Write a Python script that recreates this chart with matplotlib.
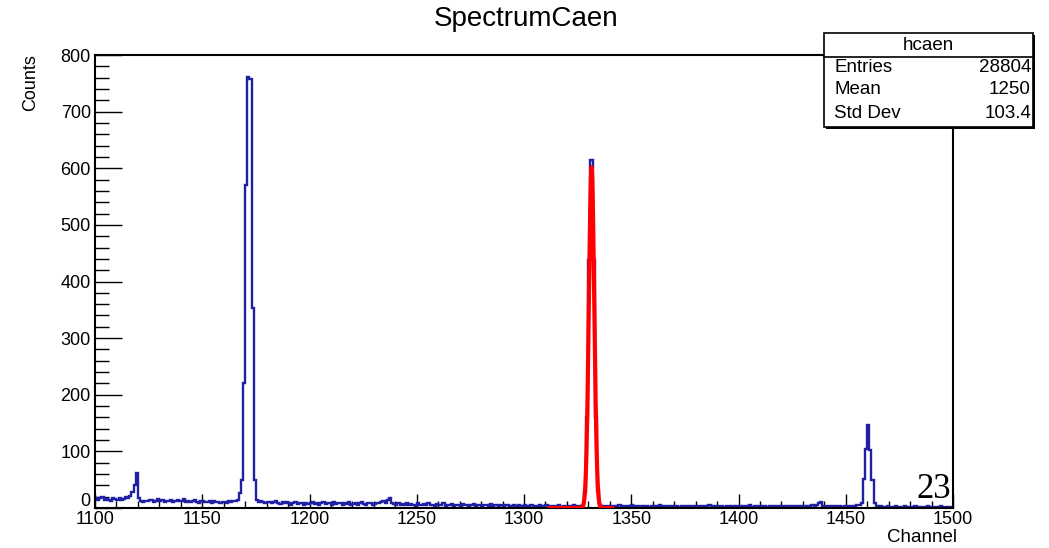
import numpy as np
import matplotlib
matplotlib.use("Agg")
import matplotlib.pyplot as plt
import matplotlib.transforms as mtransforms
from matplotlib.patches import Rectangle
from matplotlib.lines import Line2D
from matplotlib.ticker import MultipleLocator

plt.rcParams['font.family'] = ['Liberation Sans', 'DejaVu Sans']

# ---------------- data ----------------
channel_start = 1100
channel_stop = 1500
counts = [
    # 1100-1119
    18, 15, 17, 20, 14, 16, 15, 13, 17, 16, 15, 18, 14, 16, 19, 17, 22, 28, 40, 62,
    # 1120-1139
    18, 12, 11, 13, 12, 15, 14, 11, 13, 16, 12, 14, 10, 13, 12, 15, 11, 12, 14, 13,
    # 1140-1159
    12, 16, 11, 13, 10, 12, 14, 11, 9, 13, 12, 10, 11, 13, 9, 12, 10, 11, 9, 10,
    # 1160-1179
    11, 9, 12, 10, 13, 12, 15, 26, 50, 220, 571, 762, 758, 353, 50, 14, 10, 12, 11, 9,
    # 1180-1199
    10, 11, 8, 10, 12, 9, 7, 10, 9, 11, 8, 6, 9, 10, 7, 9, 8, 5, 9, 7,
    # 1200-1219
    8, 10, 7, 9, 6, 8, 11, 7, 9, 8, 6, 10, 7, 8, 9, 6, 8, 7, 10, 6,
    # 1220-1239
    7, 9, 6, 8, 10, 7, 5, 9, 8, 6, 7, 9, 8, 10, 12, 8, 14, 18, 9, 7,
    # 1240-1259
    6, 8, 5, 7, 6, 9, 5, 7, 6, 4, 8, 6, 5, 7, 6, 8, 5, 6, 4, 7,
    # 1260-1279
    5, 6, 8, 4, 6, 5, 7, 3, 6, 5, 4, 7, 5, 6, 4, 5, 7, 4, 6, 5,
    # 1280-1299
    4, 6, 5, 3, 7, 4, 5, 6, 3, 5, 4, 6, 5, 3, 4, 6, 4, 5, 3, 4,
    # 1300-1319
    5, 3, 4, 6, 3, 4, 2, 5, 4, 3, 5, 4, 3, 2, 4, 3, 5, 2, 4, 3,
    # 1320-1339
    3, 4, 2, 5, 3, 4, 3, 5, 28, 160, 438, 615, 438, 160, 30, 6, 4, 3, 4, 2,
    # 1340-1359
    3, 2, 4, 3, 5, 2, 3, 4, 2, 3, 5, 3, 2, 4, 3, 2, 4, 3, 2, 3,
    # 1360-1379
    4, 2, 3, 5, 2, 3, 4, 2, 3, 2, 4, 3, 2, 3, 4, 2, 3, 2, 4, 3,
    # 1380-1399
    2, 3, 4, 2, 3, 2, 5, 3, 2, 3, 2, 4, 3, 2, 3, 4, 2, 3, 2, 3,
    # 1400-1419
    4, 2, 3, 2, 3, 5, 2, 3, 2, 4, 3, 2, 3, 2, 4, 3, 2, 3, 4, 2,
    # 1420-1439
    3, 2, 4, 3, 2, 3, 2, 4, 3, 2, 3, 4, 2, 3, 5, 3, 6, 9, 10, 3,
    # 1440-1459
    2, 3, 4, 2, 3, 2, 3, 4, 2, 3, 2, 4, 3, 2, 4, 5, 6, 9, 52, 105,
    # 1460-1479
    147, 102, 50, 8, 4, 2, 3, 2, 1, 3, 2, 1, 2, 3, 2, 1, 2, 3, 1, 2,
    # 1480-1499
    2, 1, 3, 2, 1, 2, 2, 1, 3, 2, 1, 2, 1, 2, 3, 1, 2, 1, 2, 2,
]

# Gaussian fit parameters (red curve)
fit_amp = 602.0
fit_mean = 1331.5
fit_sigma = 1.25
fit_range = (1311.0, 1342.0)

# stats box
stats_title = "hcaen"
stats_names = ["Entries", "Mean", "Std Dev"]
stats_values = ["28804", "1250", "103.4"]

x_ticks = [1100, 1150, 1200, 1250, 1300, 1350, 1400, 1450, 1500]
y_ticks = [0, 100, 200, 300, 400, 500, 600, 700, 800]

# ---------------- figure ----------------
W, H = 1049, 548
fig = plt.figure(figsize=(W / 100, H / 100), dpi=100)
fig.patch.set_facecolor('white')

def fx(px):
    return px / W

def fy(py):
    return 1 - py / H

ax_l, ax_r, ax_t, ax_b = 95, 953, 55, 508
ax = fig.add_axes([fx(ax_l), fy(ax_b), (ax_r - ax_l) / W, (ax_b - ax_t) / H])

edges = np.arange(channel_start, channel_stop + 1)
ax.stairs(counts, edges, color='#2020a4', linewidth=1.7, baseline=None, zorder=2)

xf = np.linspace(fit_range[0], fit_range[1], 600)
yf = fit_amp * np.exp(-(xf - fit_mean) ** 2 / (2 * fit_sigma ** 2))
ax.plot(xf, yf, color='#ff0000', linewidth=3.0, zorder=3, solid_capstyle='butt')

ax.set_xlim(channel_start, channel_stop)
ax.set_ylim(0, 800)
ax.set_xticks(x_ticks)
ax.set_yticks(y_ticks)
ax.xaxis.set_minor_locator(MultipleLocator(10))
ax.yaxis.set_minor_locator(MultipleLocator(20))
ax.tick_params(axis='y', which='major', direction='in', length=19.5, width=1.0,
               labelsize=13, pad=3, colors='black')
ax.tick_params(axis='y', which='minor', direction='in', length=9.8, width=1.0)
ax.tick_params(axis='x', which='major', direction='in', length=9.8, width=1.0,
               labelsize=13, pad=2, colors='black')
ax.tick_params(axis='x', which='minor', direction='in', length=4.9, width=1.0)
for s in ax.spines.values():
    s.set_linewidth(1.5)
    s.set_color('black')

# nudge the "0" label up slightly (as in the reference, it sits above the corner)
fig.canvas.draw()
zero_lbl = ax.get_yticklabels()[0]
zero_lbl.set_transform(zero_lbl.get_transform() +
                       mtransforms.ScaledTranslation(0, 8 / 100, fig.dpi_scale_trans))

# title and axis labels
fig.text(fx(526), fy(19), "SpectrumCaen", ha='center', va='center', fontsize=20)
fig.text(fx(31), fy(54), "Counts", ha='center', va='top', rotation=90, fontsize=13)
fig.text(fx(957), fy(538), "Channel", ha='right', va='center', fontsize=13.5)

# page number
fig.text(fx(951), fy(498), "23", ha='right', va='baseline', fontsize=25,
         family=['Liberation Serif', 'DejaVu Serif'])

# stats box
bx0, bx1, by0, by1 = 824, 1033, 33, 127
fig.patches.append(Rectangle((fx(bx0 + 2), fy(by1 + 2)), (bx1 - bx0) / W, (by1 - by0) / H,
                             transform=fig.transFigure, facecolor='black', edgecolor='black',
                             linewidth=0, zorder=10))
fig.patches.append(Rectangle((fx(bx0), fy(by1)), (bx1 - bx0) / W, (by1 - by0) / H,
                             transform=fig.transFigure, facecolor='white', edgecolor='black',
                             linewidth=1.2, zorder=11))
fig.lines.append(Line2D([fx(bx0), fx(bx1)], [fy(57), fy(57)], transform=fig.transFigure,
                        color='black', linewidth=1.2, zorder=12))
fig.text(fx((bx0 + bx1) / 2), fy(45), stats_title, ha='center', va='center',
         fontsize=13.5, zorder=13)
row_y = [68, 90, 114]
for name, val, ry in zip(stats_names, stats_values, row_y):
    fig.text(fx(834), fy(ry), name, ha='left', va='center', fontsize=13.5, zorder=13)
    fig.text(fx(1031), fy(ry), val, ha='right', va='center', fontsize=13.5, zorder=13)

fig.savefig("out.png", dpi=100, facecolor='white')
